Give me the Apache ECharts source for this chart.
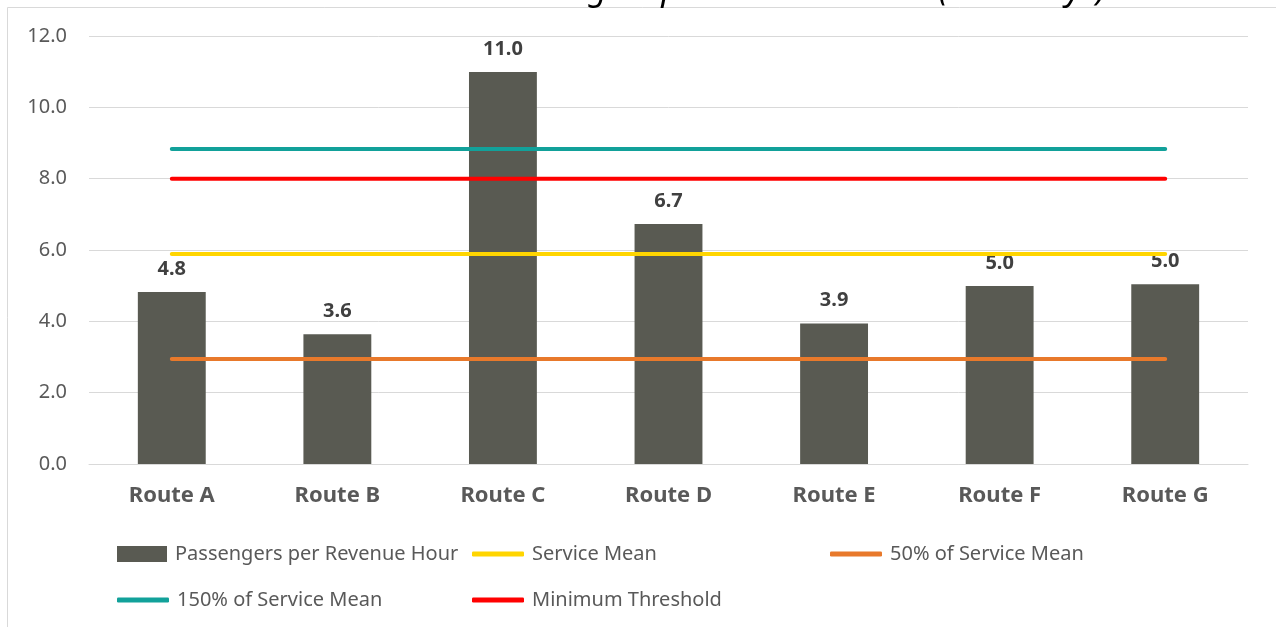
<!DOCTYPE html>
<html>
<head>
    <meta charset="utf-8">
    <title>Passengers per Revenue Hour</title>
    <script src="https://cdn.jsdelivr.net/npm/echarts@6/dist/echarts.min.js"></script>
    <style>
        html, body { margin: 0; padding: 0; background: #fff; }
    </style>
</head>
<body>
    <div id="main" style="width: 1276px;height:627px;"></div>
    <script type="text/javascript">
        var myChart = echarts.init(document.getElementById('main'));

        // categories and values
        const routes = ['Route A', 'Route B', 'Route C', 'Route D', 'Route E', 'Route F', 'Route G'];
        const passengersPerHour = [4.82, 3.64, 10.99, 6.73, 3.94, 4.99, 5.04];
        const serviceMean = [5.89, 5.89, 5.89, 5.89, 5.89, 5.89, 5.89];
        const halfServiceMean = [2.945, 2.945, 2.945, 2.945, 2.945, 2.945, 2.945];
        const oneAndHalfServiceMean = [8.835, 8.835, 8.835, 8.835, 8.835, 8.835, 8.835];
        const minimumThreshold = [8.0, 8.0, 8.0, 8.0, 8.0, 8.0, 8.0];
        const chartTitle = 'Overall Local Service Passengers per Revenue Hour (Weekdays)';

        const font = 'Noto Sans';
        const gray = '#595959';

        function lineSeries(name, data, color) {
            return {
                name: name,
                type: 'line',
                data: data,
                symbol: 'none',
                z: 3,
                lineStyle: { color: color, width: 4, cap: 'round' },
                itemStyle: { color: color }
            };
        }

        function legendAt(name, left, top, w, h, icon) {
            return {
                data: [{ name: name, icon: icon }],
                left: left,
                top: top,
                itemWidth: w,
                itemHeight: h,
                padding: 0,
                textStyle: { fontFamily: font, fontSize: 20, color: gray, padding: [0, 0, 0, 3] }
            };
        }

        var option = {
            animation: false,
            backgroundColor: '#fff',
            graphic: [{
                type: 'rect',
                shape: { x: 7.5, y: 7.5, width: 1300, height: 700 },
                style: { fill: 'none', stroke: '#d9d9d9', lineWidth: 1 },
                silent: true,
                z: -1
            }, {
                // the title sits mostly above the visible area, as in the reference
                type: 'text',
                silent: true,
                style: {
                    text: chartTitle,
                    x: 636,
                    y: -10,
                    textAlign: 'center',
                    textVerticalAlign: 'middle',
                    font: 'italic 34px "Noto Sans"',
                    fill: '#000'
                }
            }],
            legend: [
                legendAt('Passengers per Revenue Hour', 117, 544, 50, 16, 'rect'),
                legendAt('Service Mean', 472, 544, 52, 5, 'roundRect'),
                legendAt('50% of Service Mean', 830, 544, 52, 5, 'roundRect'),
                legendAt('150% of Service Mean', 117, 590, 52, 5, 'roundRect'),
                legendAt('Minimum Threshold', 472, 590, 52, 5, 'roundRect')
            ],
            grid: {
                left: 89,
                right: 28,
                top: 36,
                bottom: 163
            },
            xAxis: {
                type: 'category',
                data: routes,
                axisLine: { lineStyle: { color: '#d9d9d9' } },
                axisTick: { show: false },
                axisLabel: {
                    fontFamily: font,
                    fontSize: 22,
                    fontWeight: 'bold',
                    color: gray,
                    margin: 21
                }
            },
            yAxis: {
                type: 'value',
                min: 0,
                max: 12,
                interval: 2,
                axisLine: { show: false },
                axisTick: { show: false },
                splitLine: { lineStyle: { color: '#d9d9d9', width: 1 } },
                axisLabel: {
                    fontFamily: font,
                    fontSize: 20,
                    color: gray,
                    margin: 22,
                    formatter: function (v) { return v.toFixed(1); }
                }
            },
            series: [
                {
                    name: 'Passengers per Revenue Hour',
                    type: 'bar',
                    data: passengersPerHour,
                    barWidth: '41%',
                    itemStyle: { color: '#595a52' },
                    label: {
                        show: true,
                        position: 'top',
                        distance: 13,
                        fontFamily: font,
                        fontSize: 20,
                        fontWeight: 'bold',
                        color: '#404040',
                        formatter: function (p) { return p.value.toFixed(1); }
                    },
                    z: 2
                },
                lineSeries('Service Mean', serviceMean, '#ffd500'),
                lineSeries('50% of Service Mean', halfServiceMean, '#e8792b'),
                lineSeries('150% of Service Mean', oneAndHalfServiceMean, '#12a19a'),
                lineSeries('Minimum Threshold', minimumThreshold, '#ff0000')
            ]
        };

        myChart.setOption(option);
    </script>
</body>
</html>
